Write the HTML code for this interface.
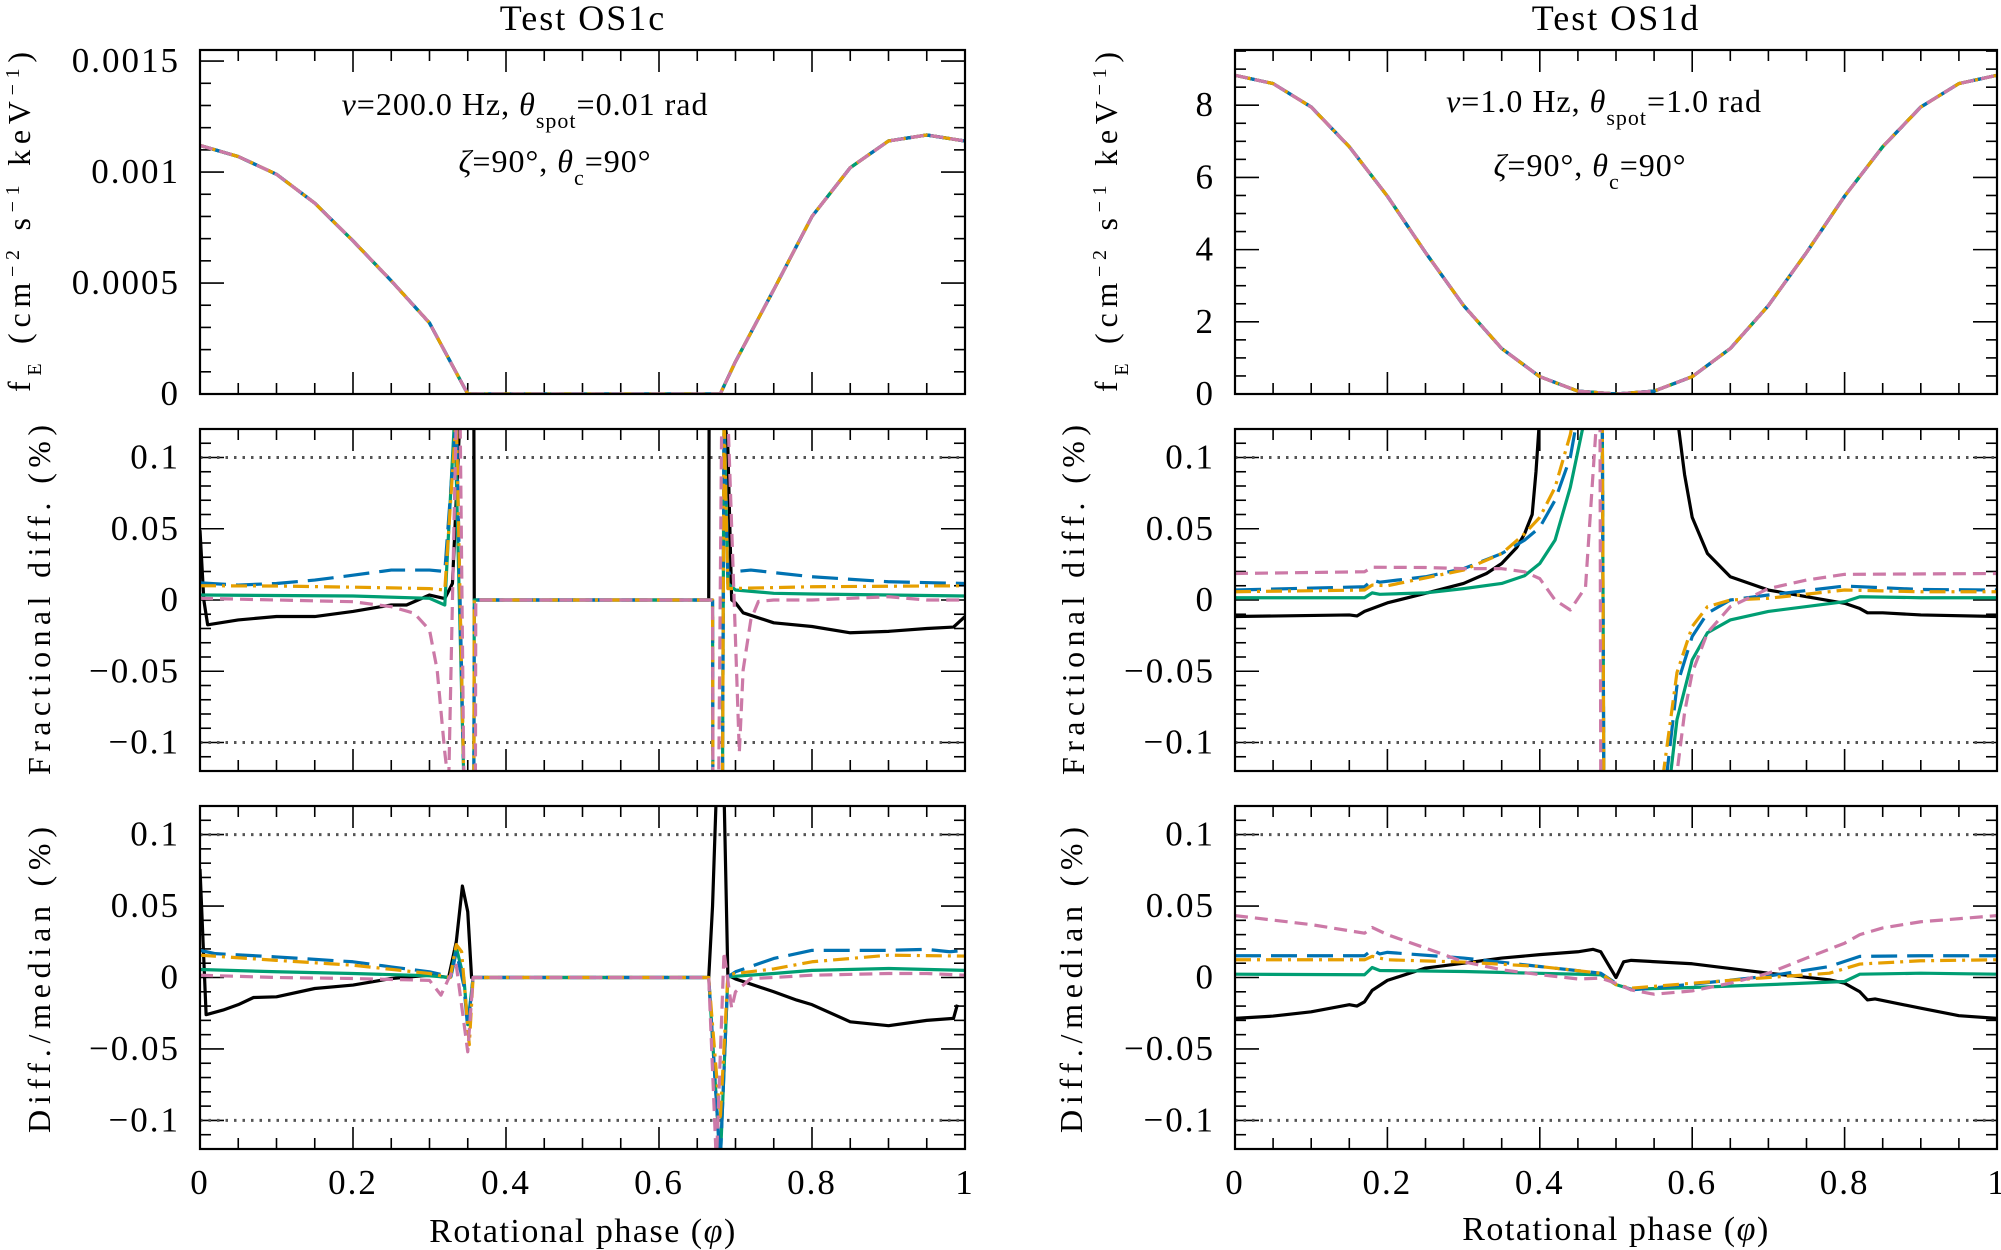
<!DOCTYPE html>
<html><head><meta charset="utf-8">
<style>
html,body{margin:0;padding:0;background:#fff;}
svg{display:block;font-family:"Liberation Serif",serif;}
</style></head>
<body>
<svg id="fig" width="2001" height="1250" viewBox="0 0 2001 1250" xmlns="http://www.w3.org/2000/svg"></svg>
<script>
// ---------- DATA ----------
const phaseTicks = [0, 0.2, 0.4, 0.6, 0.8, 1];
const phaseTickLabels = ["0", "0.2", "0.4", "0.6", "0.8", "1"];
const fluxCTicks = [0, 0.0005, 0.001, 0.0015];
const fluxCTickLabels = ["0", "0.0005", "0.001", "0.0015"];
const fluxDTicks = [0, 2, 4, 6, 8];
const fluxDTickLabels = ["0", "2", "4", "6", "8"];
const diffTicks = [-0.1, -0.05, 0, 0.05, 0.1];
const diffTickLabels = ["\u22120.1", "\u22120.05", "0", "0.05", "0.1"];
const seriesNames = ["black", "green", "blue", "orange", "pink"];

// OS1c flux (all codes overlap)
const fluxC = [[0,0.00112],[0.05,0.00107],[0.1,0.00099],[0.15,0.00086],[0.2,0.00069],[0.25,0.00051],[0.3,0.00032],[0.35,0.0],[0.4,0],[0.5,0],[0.6,0],[0.68,0],[0.7,0.000146],[0.75,0.00047],[0.8,0.0008],[0.85,0.00102],[0.9,0.00114],[0.95,0.001167],[1.0,0.00114]];
// OS1d flux
const fluxD = [[0,8.83],[0.05,8.6],[0.1,7.95],[0.15,6.85],[0.2,5.48],[0.25,3.92],[0.3,2.45],[0.35,1.26],[0.4,0.48],[0.45,0.08],[0.5,0],[0.55,0.08],[0.6,0.48],[0.65,1.26],[0.7,2.45],[0.75,3.92],[0.8,5.48],[0.85,6.85],[0.9,7.95],[0.95,8.6],[1.0,8.83]];

// OS1c fractional diff (%)
const fracC_black = [[0,0.049],[0.005,0],[0.01,-0.0174],[0.05,-0.014],[0.1,-0.0116],[0.15,-0.0116],[0.2,-0.008],[0.25,-0.0035],[0.27,-0.0035],[0.3,0.0035],[0.32,0.001],[0.33,0.0116],[0.34,0.13],[0.358,0.13],[0.3585,0],[0.665,0],[0.6655,0.13],[0.685,0.13],[0.69,0.107],[0.695,0],[0.7,-0.002],[0.71,-0.009],[0.75,-0.016],[0.8,-0.0186],[0.85,-0.023],[0.9,-0.022],[0.95,-0.02],[0.985,-0.019],[1.0,-0.0116]];
const fracC_blue = [[0,0.012],[0.05,0.0105],[0.1,0.0116],[0.15,0.014],[0.2,0.0174],[0.25,0.021],[0.3,0.021],[0.32,0.02],[0.335,0.13],[0.345,-0.13],[0.358,-0.13],[0.3585,0],[0.67,0],[0.6705,-0.13],[0.683,-0.13],[0.685,0.13],[0.69,0.0186],[0.7,0.02],[0.72,0.021],[0.8,0.0163],[0.9,0.0128],[1.0,0.0116]];
const fracC_orange = [[0,0.01],[0.1,0.0098],[0.2,0.009],[0.3,0.008],[0.32,0.007],[0.335,0.13],[0.345,-0.13],[0.358,-0.13],[0.3585,0],[0.67,0],[0.6705,-0.13],[0.683,-0.13],[0.685,0.13],[0.69,0.008],[0.8,0.0093],[1.0,0.01]];
const fracC_green = [[0,0.0035],[0.2,0.0028],[0.3,0.0012],[0.32,-0.0035],[0.333,0.13],[0.345,-0.13],[0.358,-0.13],[0.3585,0],[0.67,0],[0.6705,-0.13],[0.683,-0.13],[0.685,0.13],[0.69,0.0116],[0.7,0.007],[0.75,0.0047],[0.8,0.0042],[1.0,0.0028]];
const fracC_pink = [[0,0.0012],[0.1,0],[0.2,-0.0012],[0.25,-0.0047],[0.28,-0.0093],[0.3,-0.021],[0.31,-0.049],[0.32,-0.107],[0.325,-0.13],[0.335,0.13],[0.34,0.13],[0.345,-0.13],[0.36,-0.13],[0.3605,0],[0.67,0],[0.6705,-0.13],[0.678,-0.13],[0.682,0.13],[0.69,0.13],[0.705,-0.107],[0.71,-0.049],[0.72,-0.014],[0.73,-0.001],[0.75,0],[0.8,0],[0.85,0.0012],[0.9,0.0023],[0.95,0],[1.0,0]];

// OS1c diff/median (%)
const medC_black = [[0,0.076],[0.008,-0.026],[0.03,-0.0228],[0.05,-0.019],[0.07,-0.014],[0.1,-0.0135],[0.15,-0.0077],[0.2,-0.0053],[0.25,-0.0007],[0.3,0.0016],[0.325,0],[0.335,0.025],[0.343,0.064],[0.35,0.046],[0.355,0],[0.665,0],[0.67,0.05],[0.675,0.13],[0.685,0.13],[0.69,0.0016],[0.7,-0.001],[0.75,-0.01],[0.78,-0.0158],[0.8,-0.019],[0.85,-0.031],[0.9,-0.0337],[0.95,-0.03],[0.985,-0.0286],[0.99,-0.019]];
const medC_blue = [[0,0.019],[0.02,0.0167],[0.1,0.0144],[0.2,0.011],[0.25,0.0074],[0.3,0.004],[0.328,0.0005],[0.335,0.018],[0.345,-0.006],[0.35,-0.0356],[0.357,0],[0.665,0],[0.68,-0.13],[0.69,0.0005],[0.7,0.004],[0.75,0.0133],[0.8,0.019],[0.9,0.019],[0.95,0.0197],[0.98,0.018],[1.0,0.019]];
const medC_orange = [[0,0.0156],[0.1,0.012],[0.2,0.0086],[0.3,0.0028],[0.327,0],[0.335,0.023],[0.342,0.018],[0.352,-0.047],[0.357,0],[0.665,0],[0.68,-0.1],[0.69,0.0016],[0.7,0.0028],[0.75,0.006],[0.8,0.011],[0.9,0.0156],[1.0,0.015]];
const medC_green = [[0,0.0056],[0.1,0.004],[0.2,0.0028],[0.3,0.0012],[0.327,0],[0.335,0.021],[0.345,-0.0007],[0.35,-0.033],[0.357,0],[0.665,0],[0.68,-0.13],[0.69,0.0005],[0.75,0.0028],[0.8,0.005],[0.9,0.0063],[1.0,0.005]];
const medC_pink = [[0,0.0016],[0.1,0],[0.2,-0.0007],[0.3,-0.002],[0.315,-0.0123],[0.325,-0.0007],[0.335,0.0086],[0.35,-0.052],[0.357,0],[0.665,0],[0.675,-0.13],[0.685,0.018],[0.695,-0.0216],[0.7,-0.01],[0.72,-0.0007],[0.75,0],[0.8,0.0016],[0.9,0.0028],[0.95,0.0028],[1.0,0.0016]];

// OS1d fractional diff (%)
const fracD_black = [[0,-0.0116],[0.15,-0.0105],[0.16,-0.0112],[0.17,-0.008],[0.2,-0.002],[0.25,0.0047],[0.3,0.0116],[0.33,0.0186],[0.35,0.0256],[0.37,0.037],[0.38,0.0465],[0.39,0.06],[0.395,0.09],[0.4,0.13],[0.58,0.13],[0.59,0.088],[0.6,0.058],[0.62,0.0326],[0.65,0.0163],[0.7,0.007],[0.75,0.0023],[0.8,-0.0023],[0.82,-0.006],[0.83,-0.009],[0.85,-0.009],[0.9,-0.0105],[1.0,-0.0116]];
const fracD_blue = [[0,0.007],[0.17,0.0093],[0.18,0.014],[0.19,0.0125],[0.25,0.0163],[0.3,0.022],[0.35,0.0326],[0.38,0.042],[0.4,0.051],[0.42,0.07],[0.44,0.1],[0.45,0.13],[0.482,0.13],[0.484,-0.13],[0.565,-0.13],[0.58,-0.06],[0.6,-0.0256],[0.62,-0.0093],[0.65,0],[0.7,0.0035],[0.8,0.0098],[0.9,0.0074],[1.0,0.007]];
const fracD_orange = [[0,0.0058],[0.17,0.007],[0.18,0.0105],[0.2,0.01],[0.3,0.021],[0.35,0.0326],[0.38,0.0465],[0.4,0.058],[0.42,0.079],[0.44,0.116],[0.445,0.13],[0.482,0.13],[0.484,-0.13],[0.56,-0.13],[0.58,-0.051],[0.6,-0.0186],[0.62,-0.0047],[0.65,0],[0.7,0.0012],[0.8,0.007],[0.9,0.0058],[1.0,0.0058]];
const fracD_green = [[0,0.0016],[0.17,0.0016],[0.18,0.005],[0.19,0.004],[0.25,0.005],[0.3,0.008],[0.35,0.0116],[0.38,0.017],[0.4,0.0256],[0.42,0.042],[0.44,0.079],[0.46,0.13],[0.482,0.13],[0.484,-0.13],[0.57,-0.13],[0.58,-0.084],[0.6,-0.042],[0.62,-0.023],[0.65,-0.014],[0.7,-0.008],[0.8,-0.0012],[0.82,0.0023],[0.9,0.0016],[1.0,0.0016]];
const fracD_pink = [[0,0.0186],[0.17,0.0198],[0.18,0.023],[0.25,0.0228],[0.3,0.022],[0.35,0.022],[0.38,0.0198],[0.4,0.015],[0.42,0],[0.44,-0.007],[0.46,0.009],[0.47,0.09],[0.475,0.13],[0.479,0.13],[0.48,-0.13],[0.578,-0.13],[0.59,-0.079],[0.6,-0.051],[0.62,-0.023],[0.65,-0.0047],[0.7,0.008],[0.75,0.014],[0.8,0.018],[1.0,0.0186]];

// OS1d diff/median (%)
const medD_black = [[0,-0.0286],[0.05,-0.027],[0.1,-0.024],[0.15,-0.019],[0.16,-0.02],[0.17,-0.017],[0.18,-0.009],[0.2,-0.002],[0.25,0.0066],[0.3,0.01],[0.35,0.0136],[0.4,0.016],[0.45,0.018],[0.47,0.0197],[0.48,0.018],[0.49,0.009],[0.5,0],[0.51,0.011],[0.52,0.012],[0.6,0.0096],[0.7,0.003],[0.78,-0.0016],[0.8,-0.004],[0.82,-0.01],[0.83,-0.0157],[0.84,-0.015],[0.9,-0.0215],[0.95,-0.0267],[1.0,-0.0286]];
const medD_blue = [[0,0.0152],[0.17,0.0152],[0.18,0.0194],[0.19,0.0165],[0.2,0.0176],[0.3,0.0136],[0.4,0.0077],[0.48,0.003],[0.5,-0.004],[0.52,-0.0087],[0.6,-0.0047],[0.7,0.001],[0.78,0.0077],[0.82,0.0148],[0.9,0.0152],[1.0,0.0152]];
const medD_orange = [[0,0.0124],[0.17,0.0124],[0.18,0.0148],[0.2,0.0124],[0.3,0.0108],[0.4,0.0077],[0.48,0.003],[0.5,-0.005],[0.52,-0.0075],[0.6,-0.004],[0.7,0],[0.78,0.003],[0.82,0.0094],[0.9,0.0117],[1.0,0.0124]];
const medD_green = [[0,0.0023],[0.17,0.0019],[0.18,0.007],[0.19,0.0049],[0.3,0.0042],[0.48,0.0019],[0.5,-0.005],[0.52,-0.0082],[0.6,-0.007],[0.7,-0.005],[0.8,-0.0028],[0.82,0.0023],[0.9,0.003],[1.0,0.0023]];
const medD_pink = [[0,0.0433],[0.1,0.037],[0.17,0.031],[0.18,0.035],[0.2,0.03],[0.25,0.0206],[0.3,0.011],[0.35,0.0054],[0.4,0.002],[0.45,-0.001],[0.48,-0.0005],[0.5,-0.004],[0.52,-0.0087],[0.55,-0.0117],[0.6,-0.0094],[0.65,-0.004],[0.7,0.003],[0.75,0.0136],[0.8,0.024],[0.82,0.03],[0.85,0.0347],[0.9,0.039],[1.0,0.0433]];

// ---------- DRAWING ----------
const NS = "http://www.w3.org/2000/svg";
const svg = document.getElementById("fig");
const styles = {
  black: {stroke:"#000000", dash:""},
  green: {stroke:"#009E73", dash:""},
  blue: {stroke:"#0072B2", dash:"26 10"},
  orange: {stroke:"#E69F00", dash:"16 6 3 6"},
  pink: {stroke:"#CC79A7", dash:"13 7"}
};
function mk(tag, attrs, parent){
  const e = document.createElementNS(NS, tag);
  for (const k in attrs) e.setAttribute(k, attrs[k]);
  (parent||svg).appendChild(e);
  return e;
}
let clipId = 0;
function panel(o){
  const g = mk("g", {});
  
  
  const xs = v => o.x0 + (v - 0) / 1 * (o.x1 - o.x0);
  const ys = v => o.y1 - (v - o.ymin) / (o.ymax - o.ymin) * (o.y1 - o.y0);
  const cid = "clip" + (clipId++);
  const cp = mk("clipPath", {id:cid}, g);
  mk("rect", {x:o.x0, y:o.y0, width:o.x1-o.x0, height:o.y1-o.y0}, cp);
  for (let i = 0; i <= 20; i++) {
    const v = i * 0.05, X = xs(v), major = (i % 4 === 0);
    const L = major ? 22 : 11;
    const t1 = mk("line", {x1:X, x2:X, y1:o.y1, y2:o.y1-L, stroke:"#000", "stroke-width":1.6}, g);
    
    
    const t2 = mk("line", {x1:X, x2:X, y1:o.y0, y2:o.y0+L, stroke:"#000", "stroke-width":1.6}, g);
    
    
  }
  const start = Math.ceil(o.ymin / o.minor - 1e-6);
  for (let k = start; k * o.minor <= o.ymax + 1e-9; k++) {
    const v = k * o.minor, Y = ys(v);
    const major = Math.abs(Math.round(v / o.major) * o.major - v) < o.minor * 0.01;
    const L = major ? 24 : 11;
    const a = mk("line", {x1:o.x0, x2:o.x0+L, y1:Y, y2:Y, stroke:"#000", "stroke-width":1.6}, g);
    
    
    const b = mk("line", {x1:o.x1, x2:o.x1-L, y1:Y, y2:Y, stroke:"#000", "stroke-width":1.6}, g);
    
    
  }
  o.yTicks.forEach((v, i) => {
    const t = mk("text", {x:o.x0-20, y:ys(v)+11, "text-anchor":"end", "font-size":35, "letter-spacing":2}, g);
    t.textContent = o.yLabels[i];
    
    
  });
  if (o.xlabels) {
    phaseTicks.forEach((v, i) => {
      const t = mk("text", {x:xs(v), y:o.y1+45, "text-anchor":"middle", "font-size":35, "letter-spacing":2}, g);
      t.textContent = phaseTickLabels[i];
      
      
    });
  }
  (o.refs || []).forEach(v => {
    const r = mk("line", {x1:o.x0, x2:o.x1, y1:ys(v), y2:ys(v), stroke:"#555", "stroke-width":3, "stroke-dasharray":"2.5 6"}, g);
    
    
  });
  const sg = mk("g", {"clip-path":"url(#"+cid+")"}, g);
  o.series.forEach((s) => {
    const st = styles[s.key];
    const d = s.data.map((p, i) => (i ? "L" : "M") + xs(p[0]).toFixed(2) + "," + ys(p[1]).toFixed(2)).join("");
    const p = mk("path", {d:d, fill:"none", stroke:st.stroke, "stroke-width":3.2, "stroke-linejoin":"round"}, sg);
    if (st.dash) p.setAttribute("stroke-dasharray", st.dash);
    
    
  });
  const f = mk("rect", {x:o.x0, y:o.y0, width:o.x1-o.x0, height:o.y1-o.y0, fill:"none", stroke:"#000", "stroke-width":2.2}, g);
  
  
  const tx = mk("text", {transform:"translate("+o.tx+","+o.tcy+") rotate(-90)", "text-anchor":"middle", "font-size":32, textLength:o.tlen, lengthAdjust:"spacing"}, g);
  tx.innerHTML = o.title;
  
  
}

const L = {x0:200, x1:965}, R = {x0:1235, x1:1997};
const T = {y0:50, y1:394}, M = {y0:429, y1:771}, B = {y0:806, y1:1149};
function ser(b,g,bl,o,p){ return [{key:"black",data:b},{key:"green",data:g},{key:"blue",data:bl},{key:"orange",data:o},{key:"pink",data:p}]; }
const fluxTitle = 'f<tspan baseline-shift="sub" font-size="20">E</tspan> (cm<tspan baseline-shift="super" font-size="20">\u22122</tspan> s<tspan baseline-shift="super" font-size="20">\u22121</tspan> keV<tspan baseline-shift="super" font-size="20">\u22121</tspan>)';

panel({name:"os1c-flux-panel", ...L, ...T, ymin:0, ymax:0.00155, major:0.0005, minor:0.0001, yTicks:fluxCTicks, yLabels:fluxCTickLabels, series:ser(fluxC,fluxC,fluxC,fluxC,fluxC), tx:30, tcy:222, tlen:340, title:fluxTitle});
panel({name:"os1c-fractional-panel", ...L, ...M, ymin:-0.12, ymax:0.12, major:0.05, minor:0.01, yTicks:diffTicks, yLabels:diffTickLabels, refs:[0.1,-0.1], series:ser(fracC_black,fracC_green,fracC_blue,fracC_orange,fracC_pink), tx:50, tcy:600, tlen:350, title:"Fractional diff. (%)"});
panel({name:"os1c-median-panel", ...L, ...B, ymin:-0.12, ymax:0.12, major:0.05, minor:0.01, yTicks:diffTicks, yLabels:diffTickLabels, refs:[0.1,-0.1], series:ser(medC_black,medC_green,medC_blue,medC_orange,medC_pink), xlabels:true, tx:50, tcy:980, tlen:306, title:"Diff./median (%)"});
panel({name:"os1d-flux-panel", ...R, ...T, ymin:0, ymax:9.53, major:2, minor:0.5, yTicks:fluxDTicks, yLabels:fluxDTickLabels, series:ser(fluxD,fluxD,fluxD,fluxD,fluxD), tx:1117, tcy:222, tlen:340, title:fluxTitle});
panel({name:"os1d-fractional-panel", ...R, ...M, ymin:-0.12, ymax:0.12, major:0.05, minor:0.01, yTicks:diffTicks, yLabels:diffTickLabels, refs:[0.1,-0.1], series:ser(fracD_black,fracD_green,fracD_blue,fracD_orange,fracD_pink), tx:1084, tcy:600, tlen:350, title:"Fractional diff. (%)"});
panel({name:"os1d-median-panel", ...R, ...B, ymin:-0.12, ymax:0.12, major:0.05, minor:0.01, yTicks:diffTicks, yLabels:diffTickLabels, refs:[0.1,-0.1], series:ser(medD_black,medD_green,medD_blue,medD_orange,medD_pink), xlabels:true, tx:1082, tcy:980, tlen:306, title:"Diff./median (%)"});

function txt(x, y, size, html, name, ls){
  const t = mk("text", {x:x, y:y, "text-anchor":"middle", "font-size":size, "letter-spacing":ls||0});
  t.innerHTML = html;
  
  
}
txt(583, 30, 36, "Test OS1c", "panel-title-os1c", 2);
txt(1616, 30, 36, "Test OS1d", "panel-title-os1d", 2);
txt(525, 115, 32, '<tspan font-style="italic">\u03bd</tspan>=200.0 Hz, <tspan font-style="italic">\u03b8</tspan><tspan baseline-shift="sub" font-size="22">spot</tspan>=0.01 rad', "annotation-params-os1c", 1);
txt(555, 172, 32, '<tspan font-style="italic">\u03b6</tspan>=90\u00b0, <tspan font-style="italic">\u03b8</tspan><tspan baseline-shift="sub" font-size="22">c</tspan>=90\u00b0', "annotation-angles-os1c", 1);
txt(1604, 112, 32, '<tspan font-style="italic">\u03bd</tspan>=1.0 Hz, <tspan font-style="italic">\u03b8</tspan><tspan baseline-shift="sub" font-size="22">spot</tspan>=1.0 rad', "annotation-params-os1d", 1);
txt(1590, 176, 32, '<tspan font-style="italic">\u03b6</tspan>=90\u00b0, <tspan font-style="italic">\u03b8</tspan><tspan baseline-shift="sub" font-size="22">c</tspan>=90\u00b0', "annotation-angles-os1d", 1);
txt(583, 1242, 34, 'Rotational phase (<tspan font-style="italic">\u03c6</tspan>)', "x-axis-title-os1c", 1.5);
txt(1616, 1240, 34, 'Rotational phase (<tspan font-style="italic">\u03c6</tspan>)', "x-axis-title-os1d", 1.5);
</script>
</body></html>
